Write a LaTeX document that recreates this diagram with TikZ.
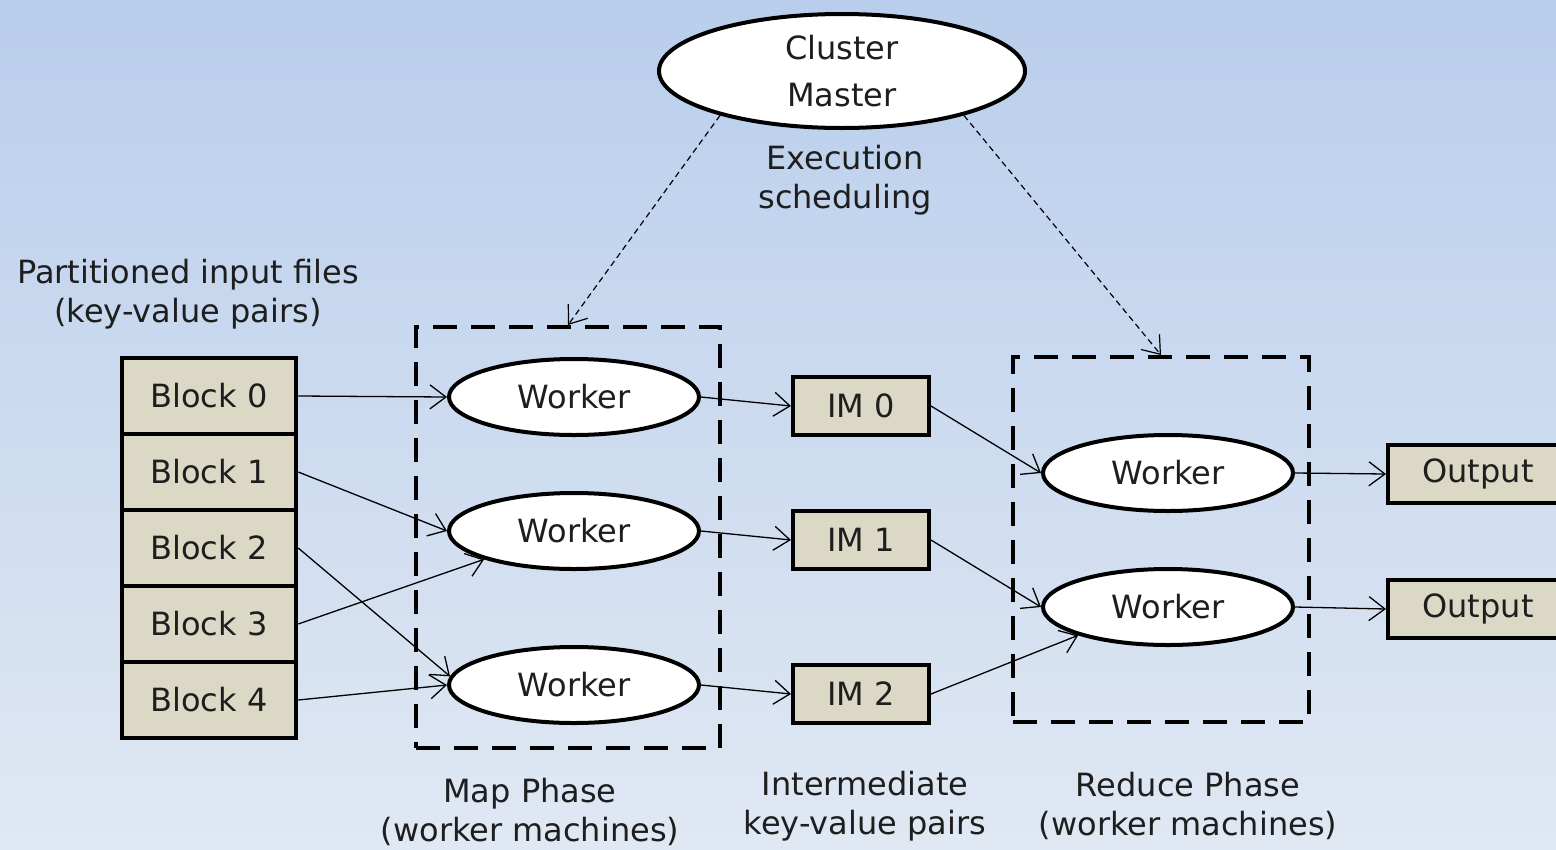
\documentclass[tikz,border=0pt]{standalone}
\usepackage{fontspec}
\setmainfont{DejaVu Sans}
\usepackage{tikz}
\usetikzlibrary{arrows.meta, shapes.geometric}
\definecolor{bgtop}{RGB}{185,206,236}
\definecolor{bgbottom}{RGB}{224,232,243}
\definecolor{blockfill}{RGB}{220,216,198}
\definecolor{inktext}{RGB}{30,30,30}

\begin{document}
\begin{tikzpicture}[x=1pt, y=-1pt,
    every node/.style={font=\fontsize{32}{39}\selectfont, text=inktext},
    worker/.style={ellipse, draw, line width=4pt, fill=white, minimum width=250pt, minimum height=76pt, inner sep=0pt},
    block/.style={rectangle, draw, line width=4.5pt, fill=blockfill, minimum width=174pt, minimum height=76pt, inner sep=0pt},
    imbox/.style={rectangle, draw, line width=4pt, fill=blockfill, minimum width=136pt, minimum height=58pt, inner sep=0pt},
    phasebox/.style={rectangle, draw, line width=4pt, dash pattern=on 24pt off 14pt, inner sep=0pt},
    flow/.style={-{Straight Barb[length=16pt, width=24pt]}, line width=1.3pt},
    sched/.style={-{Straight Barb[length=16pt, width=24pt]}, line width=1.2pt, dash pattern=on 6pt off 4pt},
    phaselabel/.style={align=center}]
      % Background
      \useasboundingbox (0,0) rectangle (1556,849);
      \shade[top color=bgtop, bottom color=bgbottom] (0,0) rectangle (1556,849);

      % Phase boxes
      \node[phasebox, minimum width=304pt, minimum height=421pt] (mapbox) at (568,537.5) {};
      \node[phasebox, minimum width=296pt, minimum height=365pt] (redbox) at (1161,539.5) {};

      % Master
      \node[ellipse, draw, line width=4pt, fill=white, minimum width=366pt, minimum height=114pt,
        inner sep=0pt, align=center, font=\fontsize{32}{47}\selectfont] (master) at (842,71) {Cluster\\Master};
      \node[phaselabel] (execlabel) at (845,180) {Execution\\scheduling};
      \draw[sched] (master.200) -- (mapbox.north);
      \draw[sched] (master.340) -- (redbox.north);

      % Input blocks
      \node[phaselabel] (inlabel) at (188,294) {Partitioned input files\\(key-value pairs)};
      \foreach \i/\y in {0/396,1/472,2/548,3/624,4/700}
        \node[block] (b\i) at (209,\y) {Block \i};

      % Map workers
      \foreach \i/\y in {0/397,1/531,2/685}
        \node[worker] (m\i) at (574,\y) {Worker};

      % Intermediate pairs
      \foreach \i/\y in {0/406,1/540,2/694}
        \node[imbox] (im\i) at (861,\y) {IM \i};

      % Reduce workers and outputs
      \foreach \i/\y in {0/473,1/607}
        \node[worker] (r\i) at (1168,\y) {Worker};
      \node[imbox, minimum width=180pt] (o0) at (1478,474) {Output};
      \node[imbox, minimum width=180pt] (o1) at (1478,609) {Output};

      % Flows
      \draw[flow] (b0.east) -- (m0.west);
      \draw[flow] (b1.east) -- (m1.west);
      \draw[flow] (b2.east) -- (m2.176);
      \draw[flow] (b3.east) -- (m1.south west);
      \draw[flow] (b4.east) -- (m2.west);
      \foreach \i in {0,1,2}
        \draw[flow] (m\i.east) -- (im\i.west);
      \draw[flow] (im0.east) -- (r0.west);
      \draw[flow] (im1.east) -- (r1.west);
      \draw[flow] (im2.east) -- (r1.south west);
      \draw[flow] (r0.east) -- (o0.west);
      \draw[flow] (r1.east) -- (o1.west);

      % Phase labels
      \node[phaselabel] (maplabel) at (530,812) {Map Phase\\(worker machines)};
      \node[phaselabel] (imlabel) at (865,806) {Intermediate\\key-value pairs};
      \node[phaselabel] (redlabel) at (1188,806) {Reduce Phase\\(worker machines)};
    \end{tikzpicture}
\end{document}
